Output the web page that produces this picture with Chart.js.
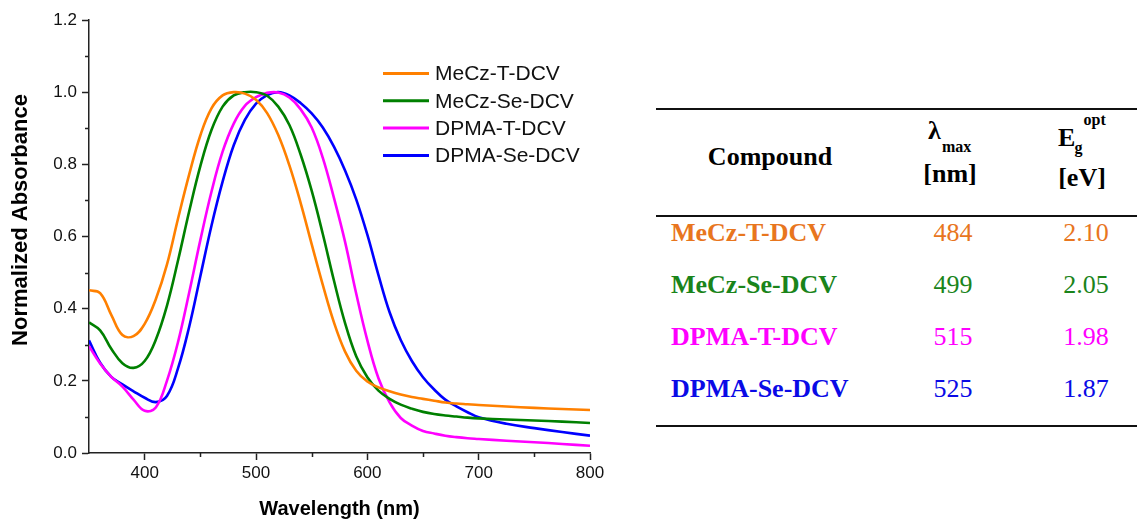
<!DOCTYPE html>
<html>
<head>
<meta charset="utf-8">
<script src="https://cdn.jsdelivr.net/npm/chart.js@4.4.1/dist/chart.umd.min.js"></script>
<style>
    body { margin: 0; background: #fff; }
    #wrap { position: relative; width: 1137px; height: 521px; overflow: hidden; }
    #absChart { position: absolute; left: 0; top: 0; }
    .tbl { position: absolute; font-family: 'Liberation Serif', 'Times New Roman', serif; white-space: nowrap; }
    .rule { position: absolute; left: 656px; width: 481px; height: 2px; background: #111; }
    .b { font-weight: bold; }
    .c { transform: translateX(-50%); }
</style>
</head>
<body>
<div id="wrap">
    <canvas id="absChart" width="640" height="521"></canvas>
    <div id="table"></div>
</div>
<script>
// Wavelength grid (nm) shared by all spectra
const wavelengths = [350, 360, 370, 380, 390, 400, 410, 420, 430, 440, 450, 460, 470, 480, 490, 500,
    510, 520, 530, 540, 550, 560, 570, 580, 590, 600, 610, 620, 630, 640, 650, 660, 670, 680, 690, 700,
    725, 750, 775, 800];

const meczT = [0.451, 0.443, 0.383, 0.327, 0.324, 0.358, 0.426, 0.522, 0.650, 0.772, 0.880, 0.955, 0.991, 1.000, 0.996, 0.979,
    0.942, 0.881, 0.797, 0.694, 0.579, 0.466, 0.362, 0.281, 0.228, 0.198, 0.182, 0.171, 0.162, 0.155, 0.150, 0.145, 0.140, 0.137, 0.135, 0.133,
    0.129, 0.125, 0.122, 0.119];

const meczSe = [0.362, 0.340, 0.289, 0.249, 0.236, 0.255, 0.314, 0.408, 0.534, 0.670, 0.795, 0.895, 0.960, 0.991, 1.000, 1.000,
    0.990, 0.960, 0.909, 0.828, 0.727, 0.607, 0.478, 0.360, 0.268, 0.210, 0.173, 0.150, 0.134, 0.123, 0.114, 0.108, 0.104, 0.101, 0.098, 0.096,
    0.093, 0.090, 0.087, 0.083];

const dpmaT = [0.296, 0.248, 0.211, 0.184, 0.148, 0.117, 0.126, 0.200, 0.308, 0.445, 0.590, 0.724, 0.835, 0.913, 0.962, 0.986,
    0.998, 0.999, 0.985, 0.953, 0.902, 0.818, 0.707, 0.585, 0.442, 0.312, 0.207, 0.140, 0.097, 0.076, 0.061, 0.054, 0.048, 0.044, 0.041, 0.039,
    0.034, 0.030, 0.025, 0.020];

const dpmaSe = [0.312, 0.250, 0.211, 0.190, 0.171, 0.153, 0.141, 0.158, 0.235, 0.350, 0.490, 0.630, 0.752, 0.853, 0.923, 0.968,
    0.992, 1.000, 0.991, 0.970, 0.941, 0.902, 0.849, 0.783, 0.703, 0.605, 0.493, 0.390, 0.313, 0.255, 0.210, 0.176, 0.148, 0.129, 0.113, 0.099,
    0.081, 0.069, 0.058, 0.048];

const compounds = ['MeCz-T-DCV', 'MeCz-Se-DCV', 'DPMA-T-DCV', 'DPMA-Se-DCV'];
const lineColours = ['#FF8000', '#008000', '#FF00FF', '#0000FF'];
const textColours = ['#E8761E', '#1A841A', '#FF00FF', '#0A0AE6'];
const lambdaMax = ['484', '499', '515', '525'];
const egOpt = ['2.10', '2.05', '1.98', '1.87'];

const xTicks = [400, 500, 600, 700, 800];
const xMinorTicks = [450, 550, 650, 750];
const yTicks = [0, 0.2, 0.4, 0.6, 0.8, 1.0, 1.2];
const yMinorTicks = [0.1, 0.3, 0.5, 0.7, 0.9, 1.1];

const axisColour = '#222';
const sansFont = "'Liberation Sans', Arial, sans-serif";

Chart.defaults.font.family = sansFont;

const spectra = [meczT, meczSe, dpmaT, dpmaSe];

// minor ticks, y title and the in-plot legend
const extrasPlugin = {
    id: 'extras',
    afterDraw(chart) {
        const { ctx, chartArea, scales } = chart;
        ctx.save();
        ctx.strokeStyle = axisColour;
        ctx.lineWidth = 1.5;
        ctx.beginPath();
        xMinorTicks.forEach(v => {
            const px = Math.round(scales.x.getPixelForValue(v)) + 0.5;
            ctx.moveTo(px, chartArea.bottom);
            ctx.lineTo(px, chartArea.bottom + 4);
        });
        yMinorTicks.forEach(v => {
            const py = Math.round(scales.y.getPixelForValue(v)) + 0.5;
            ctx.moveTo(chartArea.left - 4, py);
            ctx.lineTo(chartArea.left, py);
        });
        ctx.stroke();

        // y axis title
        ctx.save();
        ctx.translate(21, 220);
        ctx.rotate(-Math.PI / 2);
        ctx.font = 'bold 22px ' + sansFont;
        ctx.fillStyle = '#000';
        ctx.textAlign = 'center';
        ctx.textBaseline = 'middle';
        ctx.fillText('Normalized Absorbance', 0, 0);
        ctx.restore();

        // legend
        ctx.font = '21px ' + sansFont;
        ctx.textAlign = 'left';
        ctx.textBaseline = 'middle';
        chart.data.datasets.forEach((ds, i) => {
            const y = 73.5 + i * 27.3;
            ctx.strokeStyle = ds.borderColor;
            ctx.lineWidth = 3;
            ctx.beginPath();
            ctx.moveTo(383, y);
            ctx.lineTo(429, y);
            ctx.stroke();
            ctx.fillStyle = '#111';
            ctx.fillText(ds.label, 435, y + 1);
        });
        ctx.restore();
    }
};

new Chart(document.getElementById('absChart').getContext('2d'), {
    type: 'line',
    data: {
        datasets: spectra.map((values, i) => ({
            label: compounds[i],
            data: wavelengths.map((w, j) => ({ x: w, y: values[j] })),
            borderColor: lineColours[i],
            borderWidth: 2.6,
            pointRadius: 0,
            tension: 0.4,
            fill: false,
        })),
    },
    options: {
        responsive: false,
        animation: false,
        layout: { padding: { top: 20, right: 50, bottom: 0, left: 0 } },
        plugins: {
            legend: { display: false },
            tooltip: { enabled: false },
        },
        scales: {
            x: {
                type: 'linear',
                min: 350,
                max: 800,
                afterBuildTicks: (scale) => { scale.ticks = xTicks.map(v => ({ value: v })); },
                afterFit: (scale) => { scale.height = 68; },
                grid: { drawOnChartArea: false, tickLength: 7, tickColor: axisColour, tickWidth: 1.5 },
                border: { display: true, color: axisColour, width: 1.5 },
                ticks: { color: '#111', font: { size: 17 }, padding: 3, maxRotation: 0, autoSkip: false },
                title: {
                    display: true,
                    text: 'Wavelength (nm)',
                    color: '#000',
                    font: { size: 20, weight: 'bold' },
                    padding: { top: 0, bottom: 0 },
                },
            },
            y: {
                min: 0,
                max: 1.2,
                afterBuildTicks: (scale) => { scale.ticks = yTicks.map(v => ({ value: v })); },
                afterFit: (scale) => { scale.width = 89; },
                grid: { drawOnChartArea: false, tickLength: 7, tickColor: axisColour, tickWidth: 1.5 },
                border: { display: true, color: axisColour, width: 1.5 },
                ticks: { color: '#111', font: { size: 17 }, padding: 5, autoSkip: false,
                    callback: (v) => Number(v).toFixed(1) },
            },
        },
    },
    plugins: [extrasPlugin],
});

// Table of optical data, as real HTML text
function addText(html, cls, left, top, size, colour) {
    const el = document.createElement('div');
    el.className = 'tbl ' + cls;
    el.innerHTML = html;
    el.style.left = left + 'px';
    el.style.top = top + 'px';
    el.style.fontSize = size + 'px';
    el.style.lineHeight = size + 'px';
    el.style.color = colour || '#000';
    document.getElementById('table').appendChild(el);
}

function buildTable() {
    const table = document.getElementById('table');
    [108, 215, 425].forEach(top => {
        const rule = document.createElement('div');
        rule.className = 'rule';
        rule.style.top = top + 'px';
        table.appendChild(rule);
    });

    addText('Compound', 'b c', 770, 144, 26);
    addText('&lambda;', 'b', 928, 118, 26);
    addText('max', 'b', 942, 138.5, 16);
    addText('[nm]', 'b c', 950, 161, 26);
    addText('E', 'b', 1058, 125, 26);
    addText('g', 'b', 1074.5, 139.5, 16);
    addText('opt', 'b', 1083.5, 111.5, 16);
    addText('[eV]', 'b c', 1082, 165, 26);

    compounds.forEach((name, i) => {
        const top = 220 + i * 51.9;
        addText(name, 'b', 671, top, 26, textColours[i]);
        addText(lambdaMax[i], 'c', 953, top, 26, textColours[i]);
        addText(egOpt[i], 'c', 1086, top, 26, textColours[i]);
    });
}

buildTable();
</script>
</body>
</html>
